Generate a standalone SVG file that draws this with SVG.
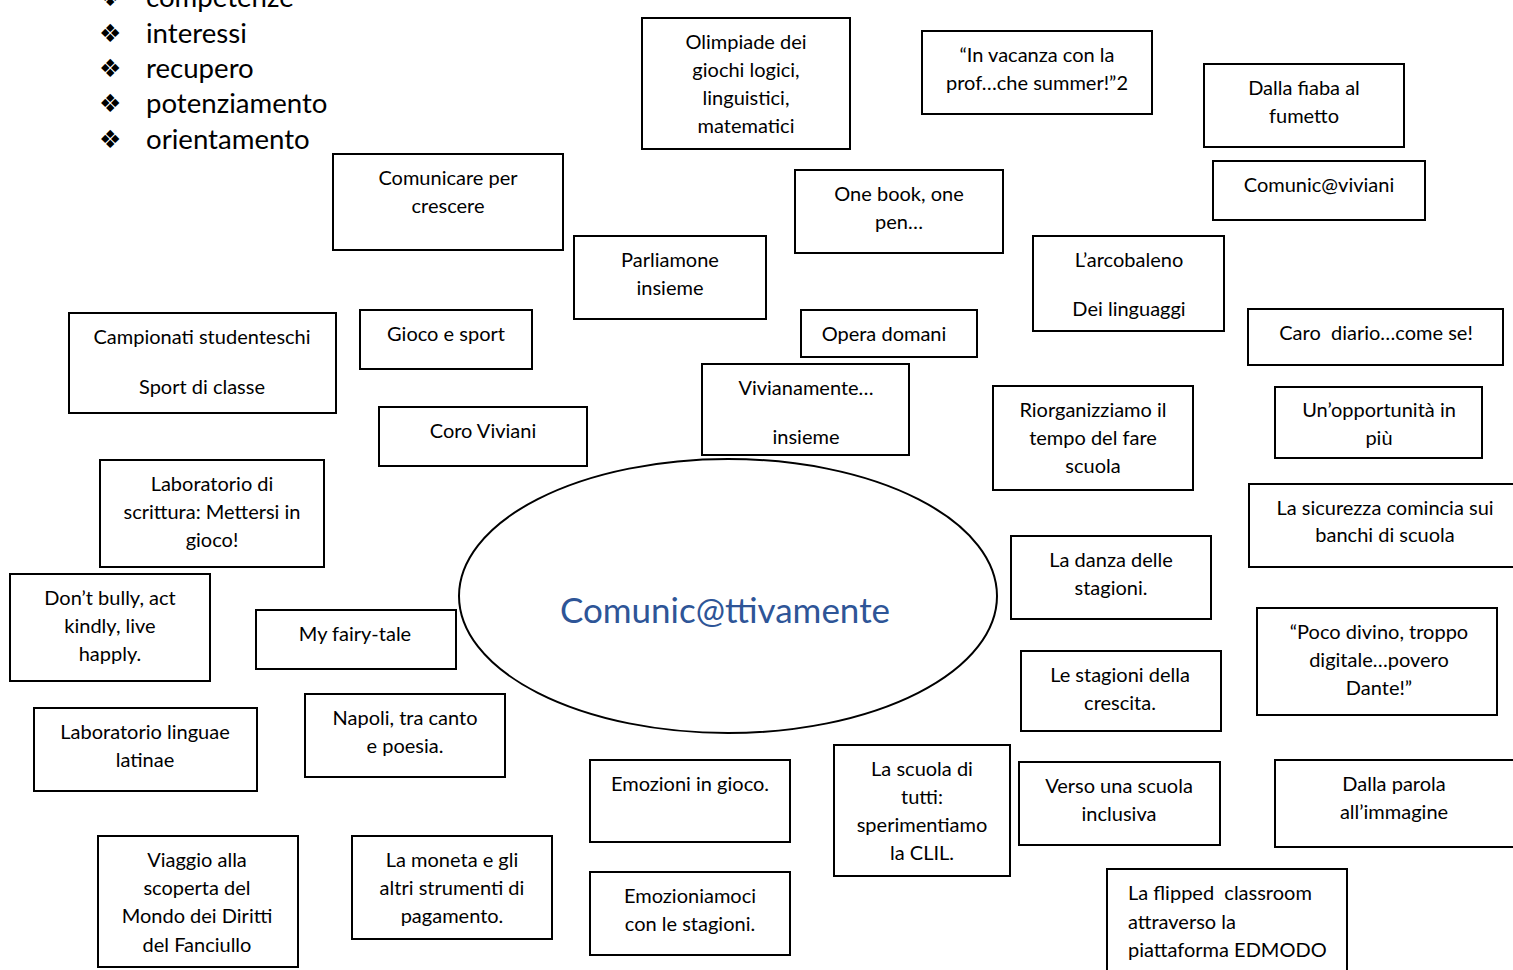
<svg xmlns="http://www.w3.org/2000/svg" width="1513" height="970" viewBox="0 0 1513 970">
<style>
rect{fill:#fff;stroke:#000;stroke-width:2}
text{font-family:Lato,"Open Sans",sans-serif;font-size:20px;fill:#000;text-anchor:middle}
.b{font-family:"DejaVu Sans",sans-serif;font-size:25px;text-anchor:start}
.l{font-size:27.6px;text-anchor:start}
.lt{text-anchor:start}
</style>
<rect x="0" y="0" width="1513" height="970" style="stroke:none"/>
<g id="list">
<text class="b" x="99" y="6">❖</text><text class="l" x="146" y="7">competenze</text>
<text class="b" x="99" y="42">❖</text><text class="l" x="146" y="43">interessi</text>
<text class="b" x="99" y="77">❖</text><text class="l" x="146" y="78">recupero</text>
<text class="b" x="99" y="112">❖</text><text class="l" x="146" y="113">potenziamento</text>
<text class="b" x="99" y="148">❖</text><text class="l" x="146" y="149">orientamento</text>
</g>
<g id="connectors"></g>
<g id="center"><ellipse cx="728" cy="596" rx="269" ry="137" fill="#fff" stroke="#000" stroke-width="2"/>
<text x="725" y="623" style="font-size:35px;fill:#2E5597">Comunic@ttivamente</text></g>
<g id="n1"><rect x="642" y="18" width="208" height="131"/><text x="746" y="49">Olimpiade dei</text><text x="746" y="77">giochi logici,</text><text x="746" y="105">linguistici,</text><text x="746" y="133">matematici</text></g>
<g id="n2"><rect x="922" y="31" width="230" height="83"/><text x="1037" y="62">“In vacanza con la</text><text x="1037" y="90">prof…che summer!”2</text></g>
<g id="n3"><rect x="1204" y="64" width="200" height="83"/><text x="1304" y="95">Dalla fiaba al</text><text x="1304" y="123">fumetto</text></g>
<g id="n4"><rect x="1213" y="161" width="212" height="59"/><text x="1319" y="192">Comunic@viviani</text></g>
<g id="n5"><rect x="333" y="154" width="230" height="96"/><text x="448" y="185">Comunicare per</text><text x="448" y="213">crescere</text></g>
<g id="n6"><rect x="795" y="170" width="208" height="83"/><text x="899" y="201">One book, one</text><text x="899" y="229">pen…</text></g>
<g id="n7"><rect x="574" y="236" width="192" height="83"/><text x="670" y="267">Parliamone</text><text x="670" y="295">insieme</text></g>
<g id="n8"><rect x="1033" y="236" width="191" height="95"/><text x="1129" y="267">L’arcobaleno</text><text x="1129" y="316">Dei linguaggi</text></g>
<g id="n9"><rect x="69" y="313" width="267" height="100"/><text x="202" y="344">Campionati studenteschi</text><text x="202" y="394">Sport di classe</text></g>
<g id="n10"><rect x="360" y="310" width="172" height="59"/><text x="446" y="341">Gioco e sport</text></g>
<g id="n11"><rect x="801" y="310" width="176" height="47"/><text x="884" y="341">Opera domani</text></g>
<g id="n12"><rect x="1248" y="309" width="255" height="56"/><text x="1376" y="340" xml:space="preserve">Caro  diario…come se!</text></g>
<g id="n13"><rect x="702" y="364" width="207" height="91"/><text x="806" y="395">Vivianamente…</text><text x="806" y="444">insieme</text></g>
<g id="n14"><rect x="379" y="407" width="208" height="59"/><text x="483" y="438">Coro Viviani</text></g>
<g id="n15"><rect x="993" y="386" width="200" height="104"/><text x="1093" y="417">Riorganizziamo il</text><text x="1093" y="445">tempo del fare</text><text x="1093" y="473">scuola</text></g>
<g id="n16"><rect x="1275" y="387" width="207" height="71"/><text x="1379" y="417">Un’opportunità in</text><text x="1379" y="445">più</text></g>
<g id="n17"><rect x="100" y="460" width="224" height="107"/><text x="212" y="491">Laboratorio di</text><text x="212" y="519">scrittura: Mettersi in</text><text x="212" y="547">gioco!</text></g>
<g id="n18"><rect x="1249" y="484" width="270" height="83"/><text x="1385" y="515">La sicurezza comincia sui</text><text x="1385" y="542">banchi di scuola</text></g>
<g id="n19"><rect x="1011" y="536" width="200" height="83"/><text x="1111" y="567">La danza delle</text><text x="1111" y="595">stagioni.</text></g>
<g id="n20"><rect x="10" y="574" width="200" height="107"/><text x="110" y="605">Don’t bully, act</text><text x="110" y="633">kindly, live</text><text x="110" y="661">happly.</text></g>
<g id="n21"><rect x="256" y="610" width="200" height="59"/><text x="355" y="641">My fairy-tale</text></g>
<g id="n22"><rect x="1257" y="608" width="240" height="107"/><text x="1379" y="639">“Poco divino, troppo</text><text x="1379" y="667">digitale…povero</text><text x="1379" y="695">Dante!”</text></g>
<g id="n23"><rect x="1021" y="651" width="200" height="80"/><text x="1120" y="682">Le stagioni della</text><text x="1120" y="710">crescita.</text></g>
<g id="n24"><rect x="305" y="694" width="200" height="83"/><text x="405" y="725">Napoli, tra canto</text><text x="405" y="753">e poesia.</text></g>
<g id="n25"><rect x="34" y="708" width="223" height="83"/><text x="145" y="739">Laboratorio linguae</text><text x="145" y="767">latinae</text></g>
<g id="n26"><rect x="834" y="745" width="176" height="131"/><text x="922" y="776">La scuola di</text><text x="922" y="804">tutti:</text><text x="922" y="832">sperimentiamo</text><text x="922" y="860">la CLIL.</text></g>
<g id="n27"><rect x="590" y="760" width="200" height="82"/><text x="690" y="791">Emozioni in gioco.</text></g>
<g id="n28"><rect x="1019" y="762" width="201" height="83"/><text x="1119" y="793">Verso una scuola</text><text x="1119" y="821">inclusiva</text></g>
<g id="n29"><rect x="1275" y="760" width="240" height="87"/><text x="1394" y="791">Dalla parola</text><text x="1394" y="819">all’immagine</text></g>
<g id="n30"><rect x="98" y="836" width="200" height="131"/><text x="197" y="867">Viaggio alla</text><text x="197" y="895">scoperta del</text><text x="197" y="923">Mondo dei Diritti</text><text x="197" y="952">del Fanciullo</text></g>
<g id="n31"><rect x="352" y="836" width="200" height="103"/><text x="452" y="867">La moneta e gli</text><text x="452" y="895">altri strumenti di</text><text x="452" y="923">pagamento.</text></g>
<g id="n32"><rect x="590" y="872" width="200" height="83"/><text x="690" y="903">Emozioniamoci</text><text x="690" y="931">con le stagioni.</text></g>
<g id="n33"><rect x="1107" y="869" width="240" height="110"/><text class="lt" x="1128" y="900" xml:space="preserve">La flipped  classroom</text><text class="lt" x="1128" y="929">attraverso la</text><text class="lt" x="1128" y="957">piattaforma EDMODO</text></g>
</svg>
